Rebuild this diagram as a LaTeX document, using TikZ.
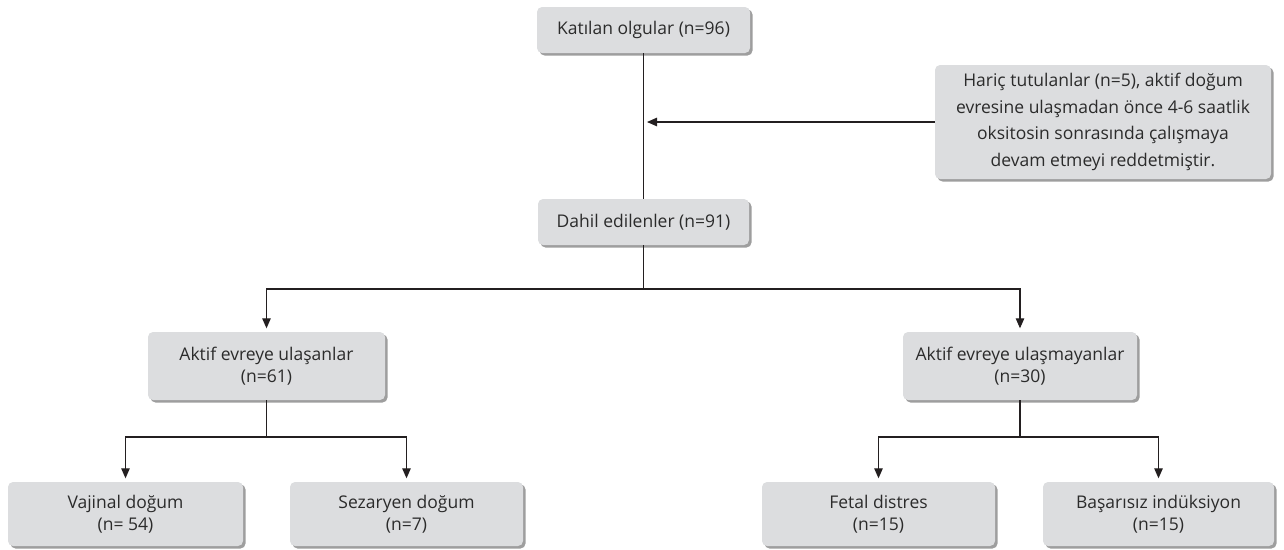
\documentclass[tikz,border=0pt]{standalone}
\usepackage{fontspec}
\setmainfont{Open Sans}
\usetikzlibrary{arrows.meta,shadows}
\definecolor{boxfill}{HTML}{DCDDDF}
\definecolor{shadowc}{HTML}{9E9E9E}
\definecolor{linec}{HTML}{231F20}
\definecolor{textc}{HTML}{2B2B2B}
\tikzset{
  flowbox/.style={draw=none, fill=boxfill, rounded corners=5pt, align=center,
    inner sep=0pt, text=textc, font=\fontsize{17.5}{22}\selectfont,
    drop shadow={shadow xshift=2.5pt, shadow yshift=-2.5pt, fill=shadowc, opacity=1}},
  conn/.style={draw=linec, line width=1.1pt},
  arr/.style={conn, -{Triangle[length=10pt,width=8.5pt]}, shorten >=3.5pt}
}
\begin{document}
\begin{tikzpicture}[x=1pt,y=-1pt]
\useasboundingbox (0,0) rectangle (1284,549);
\node[flowbox, minimum width=213pt, minimum height=46pt] (kat) at (643.5,30) {Katılan olgular (n=96)};
\node[flowbox, minimum width=336pt, minimum height=114pt, font=\fontsize{17.5}{26.5}\selectfont] (exc) at (1103,122) {Hariç tutulanlar (n=5), aktif doğum\\evresine ulaşmadan önce 4-6 saatlik\\oksitosin sonrasında çalışmaya\\devam etmeyi reddetmiştir.};
\node[flowbox, minimum width=211pt, minimum height=46pt] (dah) at (643.5,222) {Dahil edilenler (n=91)};
\node[flowbox, minimum width=237pt, minimum height=68pt] (ul) at (266.5,366) {Aktif evreye ulaşanlar\\(n=61)};
\node[flowbox, minimum width=234pt, minimum height=68pt] (ulm) at (1020,366) {Aktif evreye ulaşmayanlar\\(n=30)};
\node[flowbox, minimum width=235pt, minimum height=64pt] (vaj) at (125.5,514) {Vajinal doğum\\(n= 54)};
\node[flowbox, minimum width=233pt, minimum height=64pt] (sez) at (406.5,514) {Sezaryen doğum\\(n=7)};
\node[flowbox, minimum width=233pt, minimum height=64pt] (fet) at (878.5,514) {Fetal distres\\(n=15)};
\node[flowbox, minimum width=231pt, minimum height=64pt] (bas) at (1158.5,514) {Başarısız indüksiyon\\(n=15)};
\coordinate (j1) at (643.5,289);
\coordinate (j2) at (266.5,437);
\coordinate (j3) at (1020,437);
\draw[conn] (kat.south) -- (dah.north);
\draw[arr] (exc.west) -- (kat.south |- exc.west);
\draw[conn] (dah.south) -- (j1);
\draw[arr] (j1) -| (ul.north);
\draw[arr] (j1) -| (ulm.north);
\draw[conn] (ul.south) -- (j2);
\draw[arr] (j2) -| (vaj.north);
\draw[arr] (j2) -| (sez.north);
\draw[conn] (ulm.south) -- (j3);
\draw[arr] (j3) -| (fet.north);
\draw[arr] (j3) -| (bas.north);
\end{tikzpicture}
\end{document}
